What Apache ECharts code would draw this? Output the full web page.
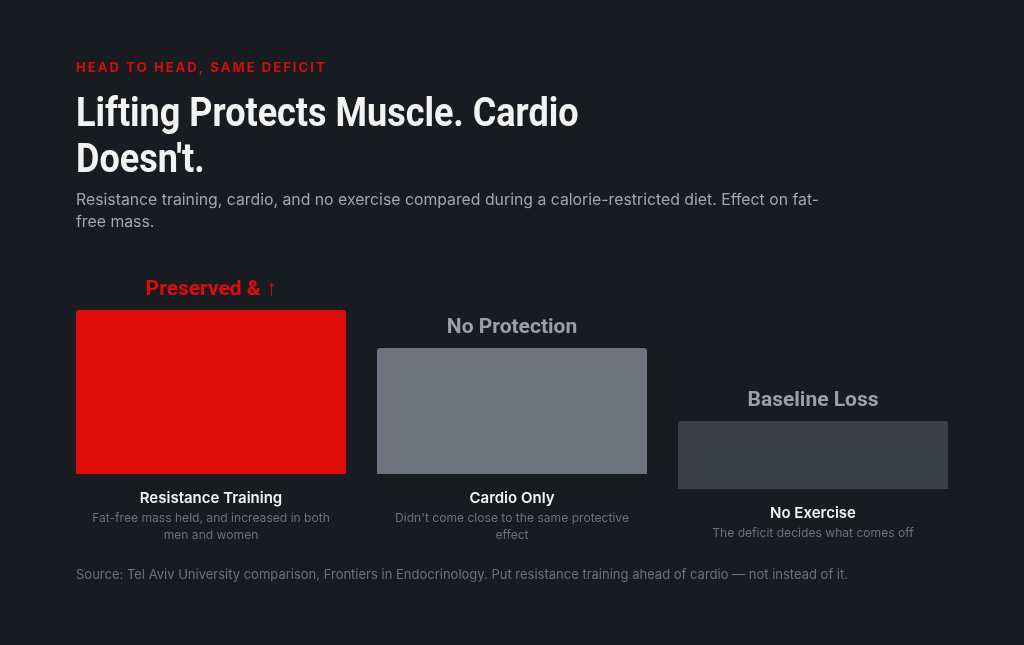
<!DOCTYPE html>
<html>
<head>
<meta charset="utf-8">
<script src="https://cdn.jsdelivr.net/npm/echarts@6/dist/echarts.min.js"></script>
<style>
  html, body { margin: 0; padding: 0; background: #181b20; }
  #chart { width: 1024px; height: 645px; }
</style>
</head>
<body>
<div id="chart"></div>
<script>
// ---- data ----
const categories = ['Resistance Training', 'Cardio Only', 'No Exercise'];
const descriptions = [
  'Fat-free mass held, and increased in both\nmen and women',
  "Didn't come close to the same protective\neffect",
  'The deficit decides what comes off'
];
const values = [82, 63, 34];               // relative fat-free-mass protection
const valueLabels = ['Preserved & \u2191', 'No Protection', 'Baseline Loss'];

const eyebrow = 'HEAD TO HEAD, SAME DEFICIT';
const headline = "Lifting Protects Muscle. Cardio\nDoesn't.";
const subtitle = 'Resistance training, cardio, and no exercise compared during a calorie-restricted diet. Effect on fat-\nfree mass.';
const source = 'Source: Tel Aviv University comparison, Frontiers in Endocrinology. Put resistance training ahead of cardio \u2014 not instead of it.';

// ---- styling ----
const barColors = ['#e00b0b', '#6c737d', '#3b4048'];
const labelColors = ['#e00b0b', '#9aa0a9', '#9aa0a9'];
const gridLefts = [76, 377, 678];
const gridBottoms = [474, 474, 489];
const gridW = 270, gridH = 200, yMax = 100;
const body = 'Inter, "Noto Sans", sans-serif';

const spaced = s => s.split('').join('\u2009');

const grids = [], xAxes = [], yAxes = [], series = [];
categories.forEach((c, i) => {
  grids.push({ left: gridLefts[i], top: gridBottoms[i] - gridH, width: gridW, height: gridH, containLabel: false });
  xAxes.push({
    gridIndex: i, type: 'category', data: [c],
    axisLine: { show: false }, axisTick: { show: false },
    axisLabel: {
      interval: 0, margin: 13,
      formatter: () => '{n|' + c + '}\n' + descriptions[i].split('\n').map(l => '{d|' + l + '}').join('\n'),
      rich: {
        n: { fontFamily: body, fontSize: 15, fontWeight: 600, color: '#f2f2f2', lineHeight: 23, align: 'center' },
        d: { fontFamily: body, fontSize: 12.1, color: '#6c717a', lineHeight: 17, align: 'center' }
      }
    }
  });
  yAxes.push({ gridIndex: i, type: 'value', min: 0, max: yMax, show: false, splitLine: { show: false } });
  series.push({
    type: 'bar', xAxisIndex: i, yAxisIndex: i,
    data: [values[i]], barWidth: gridW,
    itemStyle: { color: barColors[i], borderRadius: [3, 3, 0, 0] },
    label: {
      show: true, position: 'top', distance: 10,
      formatter: () => valueLabels[i],
      fontFamily: 'Roboto, sans-serif', fontWeight: 'bold', fontSize: 21, color: labelColors[i]
    },
    silent: true, animation: false
  });
});

const chart = echarts.init(document.getElementById('chart'), null, { renderer: 'canvas' });
chart.setOption({
  backgroundColor: '#181b20',
  animation: false,
  title: [
    { text: spaced(eyebrow), left: 76, top: 61, padding: 0, textStyle: { fontFamily: body, fontSize: 13, fontWeight: 'bold', color: '#d40d0d', lineHeight: 14 } },
    { text: subtitle, left: 76, top: 189, padding: 0, textStyle: { fontFamily: body, fontSize: 15.8, fontWeight: 'normal', color: '#a2a7af', lineHeight: 22 } },
    { text: source, left: 76, top: 567, padding: 0, textStyle: { fontFamily: body, fontSize: 13, fontWeight: 'normal', color: '#6c717a', lineHeight: 16 } }
  ],
  graphic: [{
    type: 'text', x: 76, y: 93, scaleX: 0.9, silent: true,
    style: { text: headline, font: 'bold 40px Roboto, sans-serif', fill: '#f3f3f1', lineHeight: 46, verticalAlign: 'top' }
  }],
  grid: grids, xAxis: xAxes, yAxis: yAxes, series: series
});
</script>
</body>
</html>
